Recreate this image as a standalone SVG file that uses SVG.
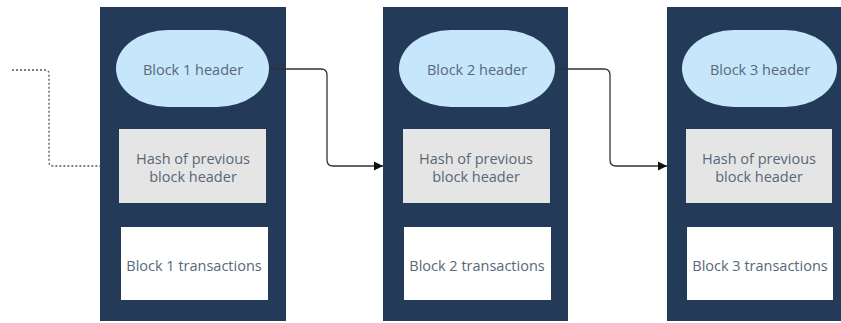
<svg xmlns="http://www.w3.org/2000/svg" width="841" height="323" viewBox="0 0 841 323">
<style>
.blk{fill:#243a59}
.hdr{fill:#c6e7fb}
.hash{fill:#e5e5e5}
.tx{fill:#ffffff}
text{font-family:"Open Sans","Liberation Sans",sans-serif;font-size:14.5px;fill:#586878;text-anchor:middle}
.con{fill:none;stroke:#333;stroke-width:1.3}
.dot{fill:none;stroke:#555;stroke-width:1.3;stroke-dasharray:2 2}
</style>
<defs>
<marker id="arr" markerWidth="10" markerHeight="10" refX="9" refY="5" orient="auto" markerUnits="userSpaceOnUse">
<path d="M0,0.5 L9,5 L0,9.5 Z" fill="#111"/>
</marker>
</defs>
<rect width="841" height="323" fill="#ffffff"/>
<g id="block1">
<rect class="blk" x="100" y="7" width="186" height="314"/>
<rect class="hdr" x="116" y="30" width="153" height="77" rx="52" ry="38.5"/>
<text x="193" y="75">Block 1 header</text>
<rect class="hash" x="119" y="129" width="147" height="74"/>
<text x="193" y="164">Hash of previous</text>
<text x="193" y="182">block header</text>
<rect class="tx" x="121" y="227" width="147" height="73"/>
<text x="194" y="271">Block 1 transactions</text>
</g>
<g id="block2">
<rect class="blk" x="383" y="7" width="185" height="314"/>
<rect class="hdr" x="399" y="30" width="156" height="77" rx="52" ry="38.5"/>
<text x="477" y="75">Block 2 header</text>
<rect class="hash" x="403" y="129" width="147" height="74"/>
<text x="476" y="164">Hash of previous</text>
<text x="476" y="182">block header</text>
<rect class="tx" x="404" y="227" width="147" height="73"/>
<text x="477" y="271">Block 2 transactions</text>
</g>
<g id="block3">
<rect class="blk" x="667" y="7" width="174" height="314"/>
<rect class="hdr" x="682" y="30" width="155" height="77" rx="52" ry="38.5"/>
<text x="760" y="75">Block 3 header</text>
<rect class="hash" x="686" y="129" width="146" height="74"/>
<text x="759" y="164">Hash of previous</text>
<text x="759" y="182">block header</text>
<rect class="tx" x="687" y="227" width="146" height="73"/>
<text x="760" y="271">Block 3 transactions</text>
</g>
<g id="connectors">
<path class="dot" d="M12,70 H45 Q49,70 49,74 V162 Q49,166 53,166 H100"/>
<path class="con" d="M269,69 H321 Q327,69 327,75 V160 Q327,166 333,166 H383" marker-end="url(#arr)"/>
<path class="con" d="M555,69 H604 Q610,69 610,75 V160 Q610,166 616,166 H667" marker-end="url(#arr)"/>
</g>
</svg>
